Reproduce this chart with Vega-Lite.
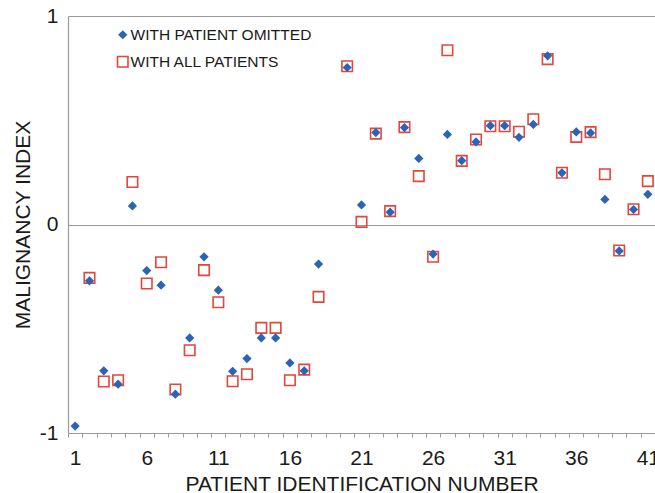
{
  "$schema": "https://vega.github.io/schema/vega-lite/v6.json",
  "width": 587,
  "height": 417,
  "autosize": "none",
  "padding": {"left": 68, "top": 16, "right": 0, "bottom": 60},
  "background": "white",
  "config": {
    "font": "Liberation Sans",
    "view": {"stroke": null},
    "axis": {"labelFont": "Liberation Sans", "titleFont": "Liberation Sans", "labelColor": "#1a1a1a", "titleColor": "#1a1a1a", "titleFontWeight": "normal", "domainColor": "#9a9a9a", "tickColor": "#9a9a9a", "gridColor": "#9a9a9a", "domainWidth": 1.2, "gridWidth": 1.2},
    "legend": {"labelLimit": 400}
  },
  "data": {
    "values": [
      {"patient": 2, "series": "WITH ALL PATIENTS", "value": -0.256},
      {"patient": 3, "series": "WITH ALL PATIENTS", "value": -0.753},
      {"patient": 4, "series": "WITH ALL PATIENTS", "value": -0.747},
      {"patient": 5, "series": "WITH ALL PATIENTS", "value": 0.204},
      {"patient": 6, "series": "WITH ALL PATIENTS", "value": -0.283},
      {"patient": 7, "series": "WITH ALL PATIENTS", "value": -0.181},
      {"patient": 8, "series": "WITH ALL PATIENTS", "value": -0.791},
      {"patient": 9, "series": "WITH ALL PATIENTS", "value": -0.603},
      {"patient": 10, "series": "WITH ALL PATIENTS", "value": -0.219},
      {"patient": 11, "series": "WITH ALL PATIENTS", "value": -0.373},
      {"patient": 12, "series": "WITH ALL PATIENTS", "value": -0.752},
      {"patient": 13, "series": "WITH ALL PATIENTS", "value": -0.718},
      {"patient": 14, "series": "WITH ALL PATIENTS", "value": -0.496},
      {"patient": 15, "series": "WITH ALL PATIENTS", "value": -0.496},
      {"patient": 16, "series": "WITH ALL PATIENTS", "value": -0.747},
      {"patient": 17, "series": "WITH ALL PATIENTS", "value": -0.696},
      {"patient": 18, "series": "WITH ALL PATIENTS", "value": -0.347},
      {"patient": 20, "series": "WITH ALL PATIENTS", "value": 0.759},
      {"patient": 21, "series": "WITH ALL PATIENTS", "value": 0.0125},
      {"patient": 22, "series": "WITH ALL PATIENTS", "value": 0.436},
      {"patient": 23, "series": "WITH ALL PATIENTS", "value": 0.064},
      {"patient": 24, "series": "WITH ALL PATIENTS", "value": 0.467},
      {"patient": 25, "series": "WITH ALL PATIENTS", "value": 0.232},
      {"patient": 26, "series": "WITH ALL PATIENTS", "value": -0.155},
      {"patient": 27, "series": "WITH ALL PATIENTS", "value": 0.836},
      {"patient": 28, "series": "WITH ALL PATIENTS", "value": 0.305},
      {"patient": 29, "series": "WITH ALL PATIENTS", "value": 0.408},
      {"patient": 30, "series": "WITH ALL PATIENTS", "value": 0.471},
      {"patient": 31, "series": "WITH ALL PATIENTS", "value": 0.471},
      {"patient": 32, "series": "WITH ALL PATIENTS", "value": 0.445},
      {"patient": 33, "series": "WITH ALL PATIENTS", "value": 0.505},
      {"patient": 34, "series": "WITH ALL PATIENTS", "value": 0.793},
      {"patient": 35, "series": "WITH ALL PATIENTS", "value": 0.248},
      {"patient": 36, "series": "WITH ALL PATIENTS", "value": 0.42},
      {"patient": 37, "series": "WITH ALL PATIENTS", "value": 0.443},
      {"patient": 38, "series": "WITH ALL PATIENTS", "value": 0.241},
      {"patient": 39, "series": "WITH ALL PATIENTS", "value": -0.125},
      {"patient": 40, "series": "WITH ALL PATIENTS", "value": 0.073},
      {"patient": 41, "series": "WITH ALL PATIENTS", "value": 0.208},
      {"patient": 1, "series": "WITH PATIENT OMITTED", "value": -0.967},
      {"patient": 2, "series": "WITH PATIENT OMITTED", "value": -0.27},
      {"patient": 3, "series": "WITH PATIENT OMITTED", "value": -0.702},
      {"patient": 4, "series": "WITH PATIENT OMITTED", "value": -0.766},
      {"patient": 5, "series": "WITH PATIENT OMITTED", "value": 0.089},
      {"patient": 6, "series": "WITH PATIENT OMITTED", "value": -0.221},
      {"patient": 7, "series": "WITH PATIENT OMITTED", "value": -0.291},
      {"patient": 8, "series": "WITH PATIENT OMITTED", "value": -0.814},
      {"patient": 9, "series": "WITH PATIENT OMITTED", "value": -0.544},
      {"patient": 10, "series": "WITH PATIENT OMITTED", "value": -0.155},
      {"patient": 11, "series": "WITH PATIENT OMITTED", "value": -0.315},
      {"patient": 12, "series": "WITH PATIENT OMITTED", "value": -0.704},
      {"patient": 13, "series": "WITH PATIENT OMITTED", "value": -0.643},
      {"patient": 14, "series": "WITH PATIENT OMITTED", "value": -0.544},
      {"patient": 15, "series": "WITH PATIENT OMITTED", "value": -0.544},
      {"patient": 16, "series": "WITH PATIENT OMITTED", "value": -0.664},
      {"patient": 17, "series": "WITH PATIENT OMITTED", "value": -0.702},
      {"patient": 18, "series": "WITH PATIENT OMITTED", "value": -0.19},
      {"patient": 20, "series": "WITH PATIENT OMITTED", "value": 0.753},
      {"patient": 21, "series": "WITH PATIENT OMITTED", "value": 0.094},
      {"patient": 22, "series": "WITH PATIENT OMITTED", "value": 0.441},
      {"patient": 23, "series": "WITH PATIENT OMITTED", "value": 0.059},
      {"patient": 24, "series": "WITH PATIENT OMITTED", "value": 0.465},
      {"patient": 25, "series": "WITH PATIENT OMITTED", "value": 0.317},
      {"patient": 26, "series": "WITH PATIENT OMITTED", "value": -0.142},
      {"patient": 27, "series": "WITH PATIENT OMITTED", "value": 0.432},
      {"patient": 28, "series": "WITH PATIENT OMITTED", "value": 0.306},
      {"patient": 29, "series": "WITH PATIENT OMITTED", "value": 0.396},
      {"patient": 30, "series": "WITH PATIENT OMITTED", "value": 0.474},
      {"patient": 31, "series": "WITH PATIENT OMITTED", "value": 0.474},
      {"patient": 32, "series": "WITH PATIENT OMITTED", "value": 0.418},
      {"patient": 33, "series": "WITH PATIENT OMITTED", "value": 0.48},
      {"patient": 34, "series": "WITH PATIENT OMITTED", "value": 0.809},
      {"patient": 35, "series": "WITH PATIENT OMITTED", "value": 0.248},
      {"patient": 36, "series": "WITH PATIENT OMITTED", "value": 0.444},
      {"patient": 37, "series": "WITH PATIENT OMITTED", "value": 0.439},
      {"patient": 38, "series": "WITH PATIENT OMITTED", "value": 0.12},
      {"patient": 39, "series": "WITH PATIENT OMITTED", "value": -0.127},
      {"patient": 40, "series": "WITH PATIENT OMITTED", "value": 0.072},
      {"patient": 41, "series": "WITH PATIENT OMITTED", "value": 0.145}
    ]
  },
  "mark": {"type": "point", "strokeWidth": 1.6, "opacity": 1},
  "encoding": {
    "x": {
      "field": "patient", "type": "quantitative",
      "scale": {"domain": [0.5, 41.5], "nice": false, "zero": false},
      "axis": {
        "title": "PATIENT IDENTIFICATION NUMBER",
        "titleFontSize": 21, "titlePadding": 5,
        "values": [0.5, 1, 1.5, 2.5, 3.5, 4.5, 5.5, 6, 6.5, 7.5, 8.5, 9.5, 10.5, 11, 11.5, 12.5, 13.5, 14.5, 15.5, 16, 16.5, 17.5, 18.5, 19.5, 20.5, 21, 21.5, 22.5, 23.5, 24.5, 25.5, 26, 26.5, 27.5, 28.5, 29.5, 30.5, 31, 31.5, 32.5, 33.5, 34.5, 35.5, 36, 36.5, 37.5, 38.5, 39.5, 40.5, 41, 41.5],
        "labelExpr": "datum.value % 1 == 0 ? datum.label : ''",
        "labelOverlap": false, "labelBound": false, "labelFlush": false,
        "labelFontSize": 21, "labelPadding": 10,
        "tickSize": 4,
        "tickOpacity": {"condition": {"test": "datum.value % 1 == 0", "value": 0}, "value": 1},
        "grid": false
      }
    },
    "y": {
      "field": "value", "type": "quantitative",
      "scale": {"domain": [-1, 1], "nice": false},
      "axis": {
        "title": "MALIGNANCY INDEX",
        "titleFontSize": 21, "titlePadding": 6,
        "values": [-1, 0, 1],
        "labelExpr": "datum.value > 0.5 ? '1' : (datum.value < -0.5 ? '-1' : '0')",
        "labelOverlap": false,
        "labelFontSize": 21, "labelPadding": 10,
        "ticks": false,
        "grid": true
      }
    },
    "shape": {
      "field": "series", "type": "nominal",
      "scale": {"domain": ["WITH PATIENT OMITTED", "WITH ALL PATIENTS"], "range": ["diamond", "square"]},
      "legend": {"title": null, "orient": "none", "legendX": 47, "legendY": 11, "labelFontSize": 15.5, "labelFont": "Liberation Sans", "labelColor": "#1a1a1a", "rowPadding": 9, "padding": 0, "labelOffset": 0, "labelLimit": 400, "symbolStrokeWidth": 1.6}
    },
    "fill": {
      "field": "series", "type": "nominal",
      "scale": {"domain": ["WITH PATIENT OMITTED", "WITH ALL PATIENTS"], "range": ["#2b63b5", "transparent"]},
      "legend": {"title": null, "orient": "none", "legendX": 47, "legendY": 11, "labelFontSize": 15.5, "labelFont": "Liberation Sans", "labelColor": "#1a1a1a", "rowPadding": 9, "padding": 0, "labelOffset": 0, "labelLimit": 400, "symbolStrokeWidth": 1.6}
    },
    "stroke": {
      "field": "series", "type": "nominal",
      "scale": {"domain": ["WITH PATIENT OMITTED", "WITH ALL PATIENTS"], "range": ["transparent", "#e2463d"]},
      "legend": {"title": null, "orient": "none", "legendX": 47, "legendY": 11, "labelFontSize": 15.5, "labelFont": "Liberation Sans", "labelColor": "#1a1a1a", "rowPadding": 9, "padding": 0, "labelOffset": 0, "labelLimit": 400, "symbolStrokeWidth": 1.6}
    },
    "size": {
      "field": "series", "type": "nominal",
      "scale": {"domain": ["WITH PATIENT OMITTED", "WITH ALL PATIENTS"], "range": [85, 110]},
      "legend": {"title": null, "orient": "none", "legendX": 47, "legendY": 11, "labelFontSize": 15.5, "labelFont": "Liberation Sans", "labelColor": "#1a1a1a", "rowPadding": 9, "padding": 0, "labelOffset": 0, "labelLimit": 400, "symbolStrokeWidth": 1.6}
    }
  }
}
